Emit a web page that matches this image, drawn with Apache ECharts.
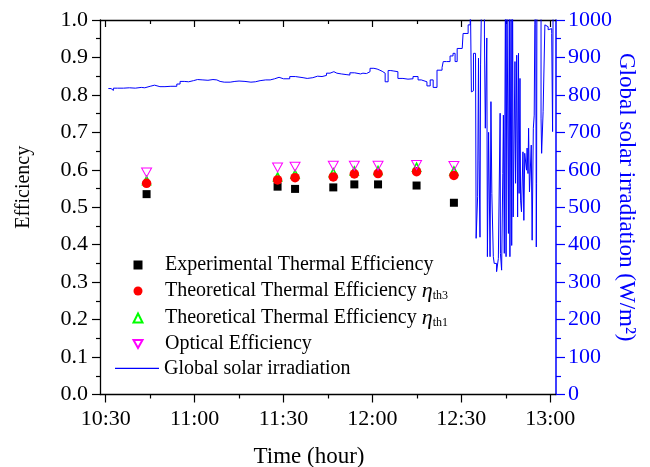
<!DOCTYPE html>
<html>
<head>
<meta charset="utf-8">
<script src="https://cdn.jsdelivr.net/npm/echarts@6.0.0/dist/echarts.min.js"></script>
<style>
  html, body { margin: 0; padding: 0; background: #fff; }
  #main { width: 650px; height: 467px; }
</style>
</head>
<body>
<div id="main"></div>
<script>
// time is minutes of the day (630 = 10:30)
const pointTimes = [643.8, 688.0, 693.9, 706.8, 713.9, 721.9, 734.9, 747.5];
const expEff = [0.535, 0.555, 0.549, 0.553, 0.561, 0.561, 0.558, 0.512];
const th3Eff = [0.564, 0.573, 0.579, 0.581, 0.589, 0.590, 0.595, 0.585];
const th1Eff = [0.571, 0.581, 0.588, 0.592, 0.597, 0.598, 0.607, 0.597];
const optEff = [0.593, 0.606, 0.608, 0.611, 0.611, 0.611, 0.613, 0.610];

const irrTimes = [
  630.9, 631.8, 632.6, 634, 636, 638, 640, 642, 643.2, 645, 646.5, 648.3, 650, 652, 654, 655.1,
  656.5, 658, 659.6, 661, 662.8, 664.5, 666.2, 667.5, 668.6, 670, 672, 673.6, 675, 677, 679, 680.5,
  682.1, 684, 685.5, 687, 688.5, 690, 692.1, 694, 696.6, 698, 699.9, 701.5, 703, 704.5, 705.7, 707,
  708, 709.5, 711.4, 712.4, 714, 716, 716.8, 718, 719.2, 720.5, 721.6, 722.5, 723.3, 724.3, 725.3, 726.2,
  727, 728.6, 730.3, 732, 733.7, 735.4, 736.5, 737.1, 738.4, 739.5, 740.5, 741.8, 743.5, 743.9, 745, 746.2,
  747.2, 747.9, 748.6, 750.3, 750.6, 752.3, 753.0, 753.4, 753.7, 754.1, 754.8, 755.0, 755.5, 755.8, 756.0, 756.3,
  756.5, 756.9, 757.3, 757.8, 758.1, 758.6, 758.8, 759.2, 759.7, 760.0, 760.3, 760.8, 761.1, 761.9, 762.5, 763.1,
  763.2, 763.6, 764.0, 764.2, 764.5, 764.9, 765.1, 765.4, 765.9, 766.2, 766.4, 766.8, 767.0, 767.3, 767.5, 767.9,
  768.1, 768.3, 768.7, 769.0, 769.3, 769.5, 769.8, 770.0, 770.3, 770.8, 771.1, 771.4, 772.0, 772.2, 772.5, 772.7,
  773.0, 773.6, 773.9, 774.3, 774.6, 774.8, 775.1, 775.3, 775.4, 775.5, 776.0, 776.5, 776.9, 777.1, 777.6, 778.2,
  778.8, 779.3, 779.9, 780.5, 780.8, 781.0, 781.6
];
const irrValues = [
  817, 812, 818, 818, 819, 818, 820, 819, 823, 826, 822, 822, 823, 823, 829, 836,
  835, 838, 841, 840, 839, 841, 840, 836, 834, 834, 836, 837, 836, 834, 835, 838,
  840, 840, 843, 847, 843, 843, 849, 846, 844, 846, 850, 849, 852, 858, 862, 858,
  856, 854, 853, 859, 856, 858, 857, 862, 871, 869, 866, 863, 858, 835, 865, 864,
  862, 844, 842, 843, 849, 840, 838, 835, 824, 840, 820, 866, 873, 889, 889, 904,
  911, 889, 924, 929, 964, 987, 1100, 808, 811, 911, 909, 417, 528, 898, 626, 420,
  880, 1100, 1100, 960, 711, 952, 368, 700, 368, 782, 537, 368, 350, 328, 363, 751,
  377, 332, 590, 746, 377, 1100, 368, 1100, 430, 1100, 368, 1100, 398, 1100, 474, 474,
  889, 564, 906, 474, 911, 537, 844, 519, 488, 648, 465, 644, 599, 658, 590, 711,
  541, 666, 412, 711, 746, 987, 1100, 394, 564, 995, 1100, 1100, 738, 644, 755, 987,
  982, 974, 977, 964, 702, 1100, 1100
];

const majorTicks = [630, 660, 690, 720, 750, 780];
const minorTicks = [645, 675, 705, 735, 765];

const font = "'Liberation Serif', 'Times New Roman', serif";
const blue = '#0000ff';

function clock(v) {
  const h = Math.floor(v / 60);
  const m = Math.round(v - h * 60);
  return h + ':' + (m < 10 ? '0' + m : m);
}

function zip(xs, ys) {
  return xs.map((x, i) => [x, ys[i]]);
}

const xMin = 628.08;
const xMax = 781.95;

function xAxisPart(position, ticks, len, inside, showLabel, showLine) {
  return {
    type: 'value',
    position: position,
    min: xMin,
    max: xMax,
    splitLine: { show: false },
    axisLine: { show: showLine, onZero: false, lineStyle: { color: '#000', width: 1.3 } },
    axisTick: { show: true, inside: inside, length: len, customValues: ticks, lineStyle: { color: '#000', width: 1.2 } },
    axisLabel: {
      show: showLabel,
      customValues: ticks,
      formatter: clock,
      color: '#000',
      fontFamily: font,
      fontSize: 22,
      margin: 14
    }
  };
}

const bottomAxis = xAxisPart('bottom', majorTicks, 8, false, true, true);
bottomAxis.name = 'Time (hour)';
bottomAxis.nameLocation = 'middle';
bottomAxis.nameGap = 51;
bottomAxis.nameTextStyle = { color: '#000', fontFamily: font, fontSize: 23, padding: [0, 38, 0, 0] };

const legendText = {
  fontFamily: font,
  fontSize: 20,
  color: '#000',
  rich: {
    t: { fontFamily: font, fontSize: 20, lineHeight: 22, color: '#000', padding: [0, 0, 0, 17.5] },
    e: { fontFamily: font, fontSize: 22, lineHeight: 22, fontStyle: 'italic', color: '#000' },
    s: { fontFamily: font, fontSize: 12, lineHeight: 12, verticalAlign: 'bottom', color: '#000' }
  }
};

const options = {
  animation: false,
  backgroundColor: '#fff',
  grid: {
    left: 100,
    top: 20,
    width: 456,
    height: 374.5,
    outerBoundsMode: 'none'
  },
  legend: [
    {
      orient: 'vertical',
      left: 132.5,
      top: 255,
      padding: 0,
      itemWidth: 9,
      itemHeight: 9,
      itemGap: 5,
      textStyle: legendText,
      formatter: function (name) {
        if (name === 'th3' || name === 'th1') {
          return '{t|Theoretical Thermal Efficiency }{e|η}{s|' + name + '}';
        }
        return '{t|' + name + '}';
      },
      data: ['Experimental Thermal Efficiency', 'th3', 'th1', 'Optical Efficiency']
    },
    {
      orient: 'vertical',
      left: 115,
      top: 357.4,
      padding: 0,
      itemWidth: 44,
      itemHeight: 1.3,
      textStyle: { fontFamily: font, fontSize: 20, lineHeight: 22, color: '#000' },
      data: [{ name: 'Global solar irradiation', icon: 'rect' }]
    }
  ],
  xAxis: [
    bottomAxis,
    xAxisPart('bottom', minorTicks, 4, false, false, false),
    xAxisPart('top', majorTicks, 7, true, false, true),
    xAxisPart('top', minorTicks, 4, true, false, false)
  ],
  yAxis: [
    {
      type: 'value',
      position: 'left',
      min: 0,
      max: 1,
      interval: 0.1,
      name: 'Efficiency',
      nameLocation: 'middle',
      nameGap: 66,
      nameTextStyle: { color: '#000', fontFamily: font, fontSize: 20, padding: [0, 0, 0, 40] },
      splitLine: { show: false },
      axisLine: { show: true, lineStyle: { color: '#000', width: 1.3 } },
      axisTick: { show: true, length: 8, lineStyle: { color: '#000', width: 1.2 } },
      minorTick: { show: true, splitNumber: 2, length: 4, lineStyle: { color: '#000', width: 1.2 } },
      axisLabel: {
        color: '#000',
        fontFamily: font,
        fontSize: 22,
        margin: 12,
        formatter: v => v.toFixed(1)
      }
    },
    {
      type: 'value',
      position: 'right',
      min: 0,
      max: 1000,
      interval: 100,
      name: 'Global solar irradiation (W/m²)',
      nameLocation: 'middle',
      nameRotate: -90,
      nameGap: 59,
      nameMoveOverlap: false,
      nameTextStyle: { color: blue, fontFamily: font, fontSize: 23, padding: [0, 20, 0, 0] },
      splitLine: { show: false },
      axisLine: { show: true, lineStyle: { color: blue, width: 1.5 } },
      axisTick: { show: true, length: 9, lineStyle: { color: blue, width: 1.2 } },
      minorTick: { show: true, splitNumber: 2, length: 5, lineStyle: { color: blue, width: 1.2 } },
      axisLabel: {
        color: blue,
        fontFamily: font,
        fontSize: 22,
        margin: 12,
        formatter: v => String(v)
      }
    }
  ],
  series: [
    {
      name: 'Global solar irradiation',
      type: 'line',
      xAxisIndex: 0,
      yAxisIndex: 1,
      step: 'end',
      symbol: 'none',
      showSymbol: false,
      lineStyle: { color: blue, width: 1 },
      itemStyle: { color: blue },
      data: zip(irrTimes, irrValues)
    },
    {
      name: 'Experimental Thermal Efficiency',
      type: 'scatter',
      symbol: 'rect',
      symbolSize: 8,
      itemStyle: { color: '#000', opacity: 1 },
      data: zip(pointTimes, expEff)
    },
    {
      name: 'th1',
      type: 'scatter',
      symbol: 'triangle',
      symbolSize: 8,
      itemStyle: { color: 'rgba(255,255,255,0)', borderColor: '#00ff00', borderWidth: 1.6, opacity: 1 },
      data: zip(pointTimes, th1Eff)
    },
    {
      name: 'th3',
      type: 'scatter',
      symbol: 'circle',
      symbolSize: 9.5,
      itemStyle: { color: '#ff0000', opacity: 1 },
      data: zip(pointTimes, th3Eff)
    },
    {
      name: 'Optical Efficiency',
      type: 'scatter',
      symbol: 'path://M0,0L10,0L5,9Z',
      symbolSize: [10, 9],
      itemStyle: { color: 'rgba(255,255,255,0)', borderColor: '#ff00ff', borderWidth: 1, opacity: 1 },
      data: zip(pointTimes, optEff)
    }
  ]
};

const chart = echarts.init(document.getElementById('main'), null, { renderer: 'canvas' });
chart.setOption(options);
</script>
</body>
</html>
